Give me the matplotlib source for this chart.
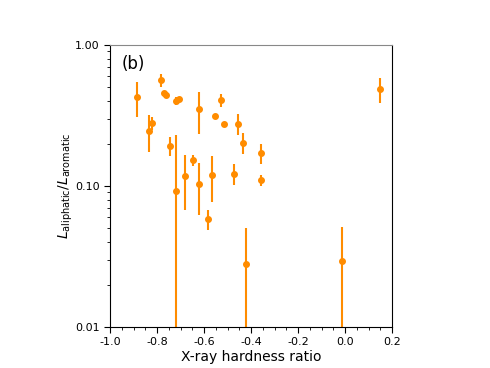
import numpy as np
import matplotlib
matplotlib.use('Agg')
import matplotlib.pyplot as plt
from matplotlib.ticker import FixedLocator, MultipleLocator, LogLocator, NullFormatter

# hardness ratio and L_aliphatic / L_aromatic values with symmetric errors
hr = [-0.886, -0.833, -0.823, -0.784, -0.769, -0.762, -0.743, -0.719, -0.719,
      -0.705, -0.680, -0.647, -0.621, -0.620, -0.584, -0.567, -0.552, -0.526,
      -0.514, -0.471, -0.454, -0.436, -0.423, -0.359, -0.356, -0.014, 0.148]
ratio = [0.426, 0.245, 0.281, 0.562, 0.455, 0.440, 0.192, 0.401, 0.0927,
         0.412, 0.117, 0.153, 0.350, 0.104, 0.0583, 0.120, 0.312, 0.405,
         0.275, 0.122, 0.277, 0.203, 0.028, 0.110, 0.171, 0.0294, 0.485]
ratio_err = [0.118, 0.072, 0.030, 0.057, 0.012, 0.012, 0.030, 0.025, 0.137,
             0.016, 0.049, 0.014, 0.116, 0.042, 0.0097, 0.043, 0.010, 0.043,
             0.010, 0.021, 0.046, 0.034, 0.0226, 0.0095, 0.027, 0.022, 0.095]

xticks = [-1.0, -0.8, -0.6, -0.4, -0.2, 0.0, 0.2]
yticks = [0.01, 0.10, 1.00]

fig = plt.figure(figsize=(4.9, 3.68), dpi=100)
ax = fig.add_axes([110 / 490, 1 - 327 / 368, 282 / 490, 282 / 368])

ax.errorbar(hr, ratio, yerr=ratio_err, fmt='o', color='darkorange',
            ecolor='darkorange', markersize=4, elinewidth=1.5, capsize=0)

ax.set_yscale('log')
ax.set_xlim(-1.0, 0.2)
ax.set_ylim(0.01, 1.0)

ax.xaxis.set_major_locator(FixedLocator(xticks))
ax.set_xticklabels(['%.1f' % t for t in xticks])
ax.xaxis.set_minor_locator(MultipleLocator(0.05))
ax.yaxis.set_major_locator(FixedLocator(yticks))
ax.set_yticklabels(['%.2f' % t for t in yticks])
ax.yaxis.set_minor_locator(LogLocator(base=10, subs=np.arange(2, 10)))
ax.yaxis.set_minor_formatter(NullFormatter())

ax.tick_params(which='major', direction='out', length=4, width=0.8, labelsize=8)
ax.tick_params(which='minor', direction='out', length=2, width=0.6)
ax.spines['top'].set_color('#888888')

ax.set_xlabel('X-ray hardness ratio', fontsize=10, labelpad=2)
ax.set_ylabel(r'$L_{\rm aliphatic}/L_{\rm aromatic}$', fontsize=10, labelpad=0)
ax.text(0.04, 0.965, '(b)', transform=ax.transAxes, fontsize=12,
        ha='left', va='top')

fig.savefig('out.png', dpi=100)
